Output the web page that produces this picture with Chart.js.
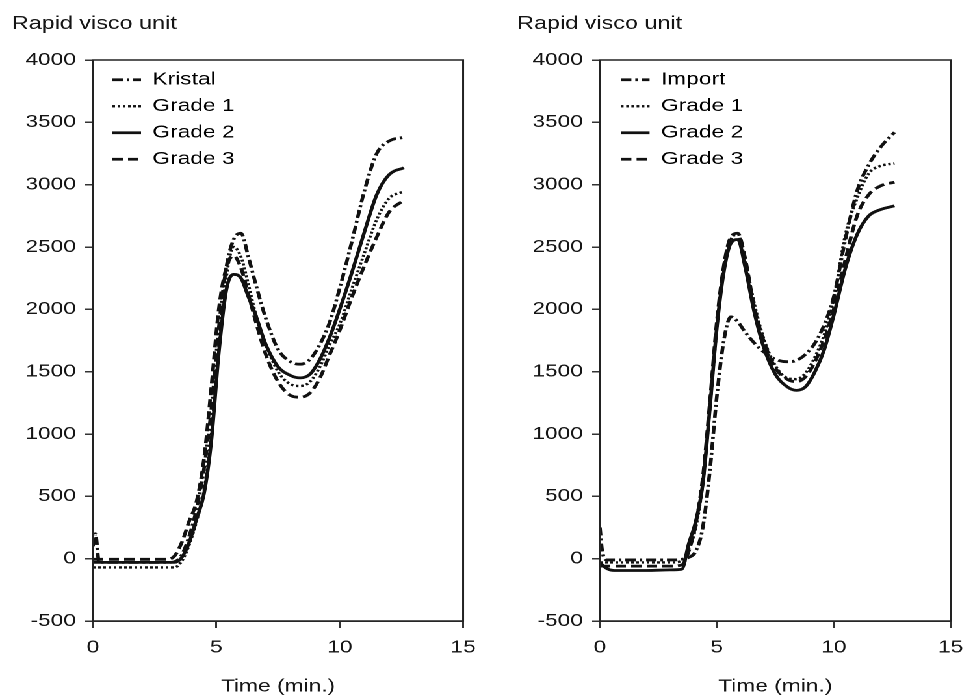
<!DOCTYPE html>
<html>
<head>
<meta charset="utf-8">
<script src="https://cdn.jsdelivr.net/npm/chart.js@4"></script>
<style>
  html, body { margin: 0; padding: 0; background: #fff; overflow: hidden; }
  /* the original figure is stretched sideways, so the whole pair is scaled */
  #wrap { width: 750px; height: 697px; display: flex; transform: scaleX(1.3); transform-origin: 0 0; }
  canvas { display: block; }
</style>
</head>
<body>
<div id="wrap">
  <canvas id="left" width="375" height="697"></canvas>
  <canvas id="right" width="375" height="697"></canvas>
</div>
<script>
// === DATA ===
const xTicks = [0, 5, 10, 15];
const yTicks = [-500, 0, 500, 1000, 1500, 2000, 2500, 3000, 3500, 4000];

// left panel
const timeLeft = [0, 0.1, 0.25, 1, 2, 3, 3.3, 3.6, 3.9, 4.2, 4.5, 4.8, 5.1, 5.4, 5.7, 6.0, 6.3, 6.6, 7.0, 7.5, 8.0, 8.4, 8.8, 9.2, 9.6, 10.0, 10.5, 11.0, 11.5, 12.0, 12.6];
const kristal = [100, 200, -30, -30, -30, -30, -25, 30, 180, 400, 720, 1200, 1850, 2330, 2560, 2610, 2420, 2200, 1930, 1680, 1580, 1560, 1600, 1720, 1900, 2170, 2550, 2950, 3250, 3350, 3380];
const left1 = [-70, -70, -70, -70, -70, -70, -70, -20, 110, 300, 540, 1000, 1700, 2250, 2500, 2420, 2200, 1960, 1720, 1500, 1400, 1385, 1420, 1540, 1720, 1880, 2170, 2450, 2720, 2890, 2945];
const left2 = [-30, -30, -30, -30, -30, -30, -30, 10, 130, 320, 520, 950, 1650, 2150, 2280, 2250, 2100, 1950, 1720, 1540, 1470, 1450, 1480, 1600, 1780, 2000, 2300, 2620, 2920, 3080, 3135];
const left3 = [-5, -5, -5, -5, -5, -5, 20, 130, 300, 460, 800, 1380, 2000, 2330, 2430, 2330, 2120, 1900, 1640, 1420, 1310, 1295, 1330, 1450, 1640, 1830, 2100, 2350, 2580, 2780, 2875];

// right panel
const timeRight = [0, 0.1, 0.3, 0.6, 1, 2, 3, 3.5, 3.8, 4.1, 4.4, 4.7, 5.0, 5.3, 5.6, 5.9, 6.2, 6.6, 7.0, 7.5, 8.0, 8.4, 8.8, 9.2, 9.6, 10.0, 10.5, 11.0, 11.5, 12.0, 12.6];
const importRice = [250, 60, -10, -10, -10, -10, -10, -5, 10, 60, 250, 700, 1300, 1750, 1940, 1900, 1820, 1730, 1660, 1600, 1580, 1590, 1640, 1730, 1880, 2100, 2560, 2950, 3160, 3300, 3420];
const right1 = [-30, -30, -30, -30, -30, -30, -30, -20, 80, 250, 600, 1200, 1850, 2350, 2560, 2600, 2400, 2050, 1770, 1550, 1450, 1440, 1490, 1620, 1800, 2080, 2600, 2890, 3090, 3150, 3170];
const right2 = [-30, -50, -80, -95, -95, -95, -90, -85, 120, 300, 600, 1200, 1850, 2300, 2530, 2560, 2350, 1980, 1700, 1480, 1380, 1350, 1380, 1500, 1680, 1950, 2330, 2600, 2750, 2800, 2830];
const right3 = [-60, -60, -60, -60, -60, -60, -60, -50, 60, 280, 650, 1250, 1900, 2350, 2580, 2610, 2420, 2020, 1750, 1530, 1440, 1420, 1460, 1580, 1760, 2000, 2400, 2750, 2920, 2990, 3020];

// === STYLE ===
const INK = "#111";
const TEXT = "#151515";
Chart.defaults.font.family = "'Liberation Sans', Arial, sans-serif";
Chart.defaults.font.size = 17.5;
Chart.defaults.color = TEXT;

const lineStyles = {
    dashDot: { borderDash: [8, 3, 2, 3], borderWidth: 2.8 },
    dotted: { borderDash: [2, 2], borderWidth: 2.4 },
    solid: { borderDash: [], borderWidth: 2.8 },
    dashed: { borderDash: [8, 4], borderWidth: 2.8 },
};

function series(label, time, values, style) {
    return {
        label: label,
        data: time.map((t, i) => ({ x: t, y: values[i] })),
        borderColor: INK,
        backgroundColor: INK,
        pointRadius: 0,
        fill: false,
        cubicInterpolationMode: "monotone",
        ...lineStyles[style],
    };
}

// box round the plot, the caption on top and where the legend sits
const framePlugin = {
    id: "frame",
    afterLayout(chart, args, opts) {
        const lg = chart.legend;
        const a = chart.chartArea;
        if (lg) {
            lg.left = a.left + opts.legendDx;
            lg.right = a.right;
            lg.top = a.top + 2;
            lg.bottom = a.bottom;
        }
    },
    afterDraw(chart, args, opts) {
        const { ctx, chartArea: a } = chart;
        ctx.save();
        ctx.strokeStyle = "#222";
        ctx.lineWidth = 1.5;
        ctx.strokeRect(a.left, a.top, a.right - a.left, a.bottom - a.top);
        ctx.fillStyle = TEXT;
        ctx.font = "18px 'Liberation Sans', Arial, sans-serif";
        ctx.textAlign = "left";
        ctx.textBaseline = "alphabetic";
        ctx.fillText("Rapid visco unit", opts.captionX, 29);
        ctx.restore();
    },
};

function makeOptions(axisWidth, rightPad, captionX, legendDx) {
    return {
        responsive: false,
        animation: false,
        devicePixelRatio: 2,
        layout: { padding: { top: 60, right: rightPad, bottom: 0, left: 0 } },
        plugins: {
            frame: { captionX: captionX, legendDx: legendDx },
            tooltip: { enabled: false },
            legend: {
                position: "chartArea",
                align: "start",
                labels: {
                    usePointStyle: true,
                    pointStyleWidth: 22,
                    boxHeight: 17,
                    padding: 9,
                    color: TEXT,
                    generateLabels: (chart) => chart.data.datasets.map((ds, i) => ({
                        text: ds.label,
                        strokeStyle: ds.borderColor,
                        fillStyle: ds.borderColor,
                        lineWidth: ds.borderWidth,
                        lineDash: ds.borderDash,
                        pointStyle: "line",
                        hidden: false,
                        datasetIndex: i,
                    })),
                },
            },
        },
        scales: {
            x: {
                type: "linear",
                min: xTicks[0],
                max: xTicks[xTicks.length - 1],
                afterBuildTicks: (s) => { s.ticks = xTicks.map((v) => ({ value: v })); },
                afterFit: (s) => { s.height = 76; },
                ticks: { padding: 9, maxRotation: 0, color: TEXT },
                grid: { drawOnChartArea: false, tickLength: 7, color: "#333", lineWidth: 1.5 },
                border: { color: "#333", width: 1.5 },
                title: { display: true, text: "Time (min.)", color: TEXT, padding: { top: 0, bottom: 0 } },
            },
            y: {
                min: yTicks[0],
                max: yTicks[yTicks.length - 1],
                afterBuildTicks: (s) => { s.ticks = yTicks.map((v) => ({ value: v })); },
                afterFit: (s) => { s.width = axisWidth; },
                ticks: { padding: 7, color: TEXT, callback: (v) => String(v) },
                grid: { drawOnChartArea: false, tickLength: 6, color: "#333", lineWidth: 1.5 },
                border: { color: "#333", width: 1.5 },
            },
        },
    };
}

// === CHART 1 ===
new Chart(document.getElementById("left"), {
    type: "line",
    data: {
        datasets: [
            series("Kristal", timeLeft, kristal, "dashDot"),
            series("Grade 1", timeLeft, left1, "dotted"),
            series("Grade 2", timeLeft, left2, "solid"),
            series("Grade 3", timeLeft, left3, "dashed"),
        ],
    },
    options: makeOptions(71.5, 16.5, 9, 6),
    plugins: [framePlugin],
});

// === CHART 2 ===
new Chart(document.getElementById("right"), {
    type: "line",
    data: {
        datasets: [
            series("Import", timeRight, importRice, "dashDot"),
            series("Grade 1", timeRight, right1, "dotted"),
            series("Grade 2", timeRight, right2, "solid"),
            series("Grade 3", timeRight, right3, "dashed"),
        ],
    },
    options: makeOptions(86.5, 10.8, 22.7, 7.2),
    plugins: [framePlugin],
});
</script>
</body>
</html>
